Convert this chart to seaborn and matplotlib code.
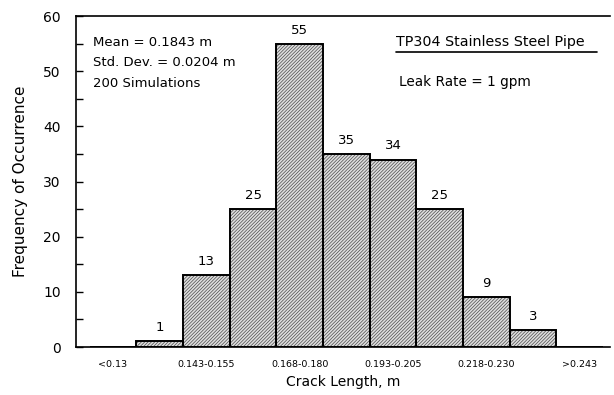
import matplotlib
matplotlib.use("Agg")
import matplotlib.pyplot as plt
import seaborn as sns
import pandas as pd

categories = ['<0.13', '0.130-0.143', '0.143-0.155', '0.155-0.168', '0.168-0.180',
              '0.180-0.193', '0.193-0.205', '0.205-0.218', '0.218-0.230',
              '0.230-0.243', '>0.243']
counts = [0, 1, 13, 25, 55, 35, 34, 25, 9, 3, 0]
tick_labels = ['<0.13', '0.143-0.155', '0.168-0.180', '0.193-0.205', '0.218-0.230', '>0.243']
tick_positions = [0, 2, 4, 6, 8, 10]

sns.set_theme(style="ticks")
plt.rcParams['font.family'] = ['DejaVu Sans']
plt.rcParams['text.color'] = 'black'
plt.rcParams['axes.labelcolor'] = 'black'
plt.rcParams['xtick.color'] = 'black'
plt.rcParams['ytick.color'] = 'black'
plt.rcParams['hatch.color'] = '#4a4a4a'
plt.rcParams['hatch.linewidth'] = 0.5

df = pd.DataFrame({'cat': categories, 'count': counts})

fig = plt.figure(figsize=(6.14, 3.95), dpi=100)
ax = fig.add_axes([0.124, 0.1215, 0.869, 0.8375])

sns.barplot(data=df, x='cat', y='count', order=categories, width=1.0,
            color='#dedede', saturation=1, edgecolor='#4a4a4a', linewidth=0,
            hatch='//////////', ax=ax)
sns.barplot(data=df, x='cat', y='count', order=categories, width=1.0,
            fill=False, edgecolor='black', linewidth=1.4, ax=ax)

for i, c in enumerate(counts):
    if c > 0:
        ax.text(i, c + 1.3, str(c), ha='center', va='bottom', fontsize=9.5)

ax.set_xlim(-0.79, 10.64)
ax.set_ylim(0, 60)
ax.set_yticks(range(0, 61, 10))
ax.set_yticks(range(5, 60, 10), minor=True)
ax.tick_params(axis='y', which='major', direction='in', length=5, width=1, labelsize=10, pad=11)
ax.tick_params(axis='y', which='minor', direction='in', length=5, width=1)
ax.set_xticks(tick_positions)
ax.set_xticklabels(tick_labels, fontsize=6.8)
ax.tick_params(axis='x', length=0, pad=9)

for s in ['left', 'top', 'bottom']:
    ax.spines[s].set_color('black')
    ax.spines[s].set_linewidth(1.2)
ax.spines['right'].set_visible(False)

ax.set_xlabel('Crack Length, m', fontsize=10, labelpad=5)
ax.set_ylabel('Frequency of Occurrence', fontsize=11, labelpad=11)

ax.text(0.032, 0.921, 'Mean = 0.1843 m', transform=ax.transAxes, fontsize=9.5, va='center')
ax.text(0.032, 0.860, 'Std. Dev. = 0.0204 m', transform=ax.transAxes, fontsize=9.5, va='center')
ax.text(0.032, 0.797, '200 Simulations', transform=ax.transAxes, fontsize=9.5, va='center')
ax.text(0.600, 0.923, 'TP304 Stainless Steel Pipe', transform=ax.transAxes, fontsize=10.3,
        va='center')
ax.plot([0.600, 0.976], [0.893, 0.893], transform=ax.transAxes, color='black', lw=1.2)
ax.text(0.605, 0.800, 'Leak Rate = 1 gpm', transform=ax.transAxes, fontsize=9.8, va='center')

fig.savefig('out.png', dpi=100)
